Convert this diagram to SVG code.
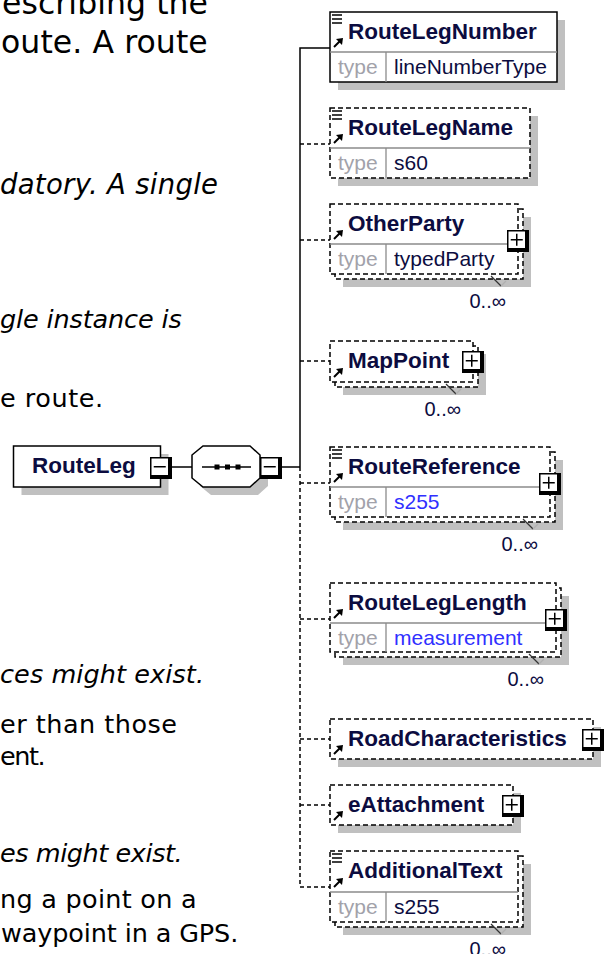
<svg xmlns="http://www.w3.org/2000/svg" width="605" height="954" viewBox="0 0 605 954">
<defs>
<style>
.prose{font-family:"DejaVu Sans",Verdana,sans-serif;font-size:25.5px;fill:#000}
.big{font-size:31.5px}
.mid{font-size:27.5px}
.it{font-style:italic}
.name{font-family:"Liberation Sans",Arial,sans-serif;font-weight:bold;font-size:22.5px;fill:#0c0c40}
.tl{font-family:"Liberation Sans",Arial,sans-serif;font-size:21px;fill:#a2a2aa}
.tv{font-family:"Liberation Sans",Arial,sans-serif;font-size:21px;fill:#0c0c40}
.blue{fill:#3030ff}
.occ{font-family:"Liberation Sans",Arial,sans-serif;font-size:20px;fill:#0c0c40;text-anchor:end}
.box{fill:#fff;stroke:#000;stroke-width:1.5}
.dash{stroke-dasharray:5 3}
.sh{fill:#c0c0c0}
.dv{stroke:#8c8c8c;stroke-width:1.3;fill:none}
.tick{fill:none;stroke:#333;stroke-width:1.2}
.tick2{fill:none;stroke:#b0b0b0;stroke-width:1.2}
.con{fill:none;stroke:#000;stroke-width:1.5}
.cd{stroke-dasharray:4 3}
</style>
<g id="arrowIcon"><path d="M0,0 L6,-6" stroke="#000" stroke-width="2" fill="none"/><path d="M9,-9 L2,-8 L8,-2 Z" fill="#000"/></g>
<g id="linesIcon"><path d="M0,0 H10 M0,4 H10 M0,8 H10" stroke="#000" stroke-width="1.4" fill="none"/></g>
<g id="plusBox"><rect x="0" y="0" width="22" height="22" fill="#000"/><rect x="0.75" y="0.75" width="18" height="18" fill="#fff" stroke="#000" stroke-width="1.5"/><path d="M3.75,9.75 H15.75 M9.75,3.75 V15.75" stroke="#000" stroke-width="1.5"/></g>
<g id="minusBox"><rect x="0" y="0" width="22" height="22" fill="#000"/><rect x="0.75" y="0.75" width="18" height="18" fill="#fff" stroke="#000" stroke-width="1.5"/><path d="M3.75,9.75 H15.75" stroke="#000" stroke-width="1.5"/></g>
</defs>
<rect width="605" height="954" fill="#fff"/>

<g id="prose">
<text class="prose big" x="2" y="14" textLength="206" lengthAdjust="spacing">escribing the</text>
<text class="prose big" x="1" y="53" textLength="206.7" lengthAdjust="spacing">oute. A route</text>
<text class="prose mid it" x="0" y="194" textLength="218" lengthAdjust="spacing">datory. A single</text>
<text class="prose it" x="0" y="328" textLength="181.7" lengthAdjust="spacing">gle instance is</text>
<text class="prose" x="0" y="407" textLength="103" lengthAdjust="spacing">e route.</text>
<text class="prose it" x="0" y="683" textLength="204" lengthAdjust="spacing">ces might exist.</text>
<text class="prose" x="0" y="733" textLength="177" lengthAdjust="spacing">er than those</text>
<text class="prose" x="0" y="765" textLength="45.7" lengthAdjust="spacing">ent.</text>
<text class="prose it" x="0" y="862" textLength="182.7" lengthAdjust="spacing">es might exist.</text>
<text class="prose" x="0" y="908" textLength="196.7" lengthAdjust="spacing">ng a point on a</text>
<text class="prose" x="1" y="942" textLength="237.3" lengthAdjust="spacing">waypoint in a GPS.</text>
</g>

<g id="connectors">
<path class="con" d="M172,467 H192 M282,467 H300 M300,467 V48 H330"/>
<path class="con cd" d="M300,467 V887 M300,144 H330 M300,240 H330 M300,361 H330 M300,483 H330 M300,619 H330 M300,739 H330 M300,805 H330 M300,887 H330"/>
</g>

<g id="RouteLeg">
<rect class="sh" x="21.5" y="454" width="147" height="41"/>
<rect class="box" x="13.5" y="446" width="147" height="41"/>
<text class="name" x="32" y="473">RouteLeg</text>
<use href="#minusBox" x="150" y="457"/>
</g>

<g id="sequence">
<polygon class="sh" points="200,463 211,454 258,454 268,463 268,486 258,495 211,495 200,486"/>
<polygon class="box" points="192,455 203,446 250,446 260,455 260,478 250,487 203,487 192,478"/>
<path d="M202,467 H251" stroke="#000" stroke-width="1.5"/>
<rect x="214.5" y="464.5" width="5" height="5" fill="#000"/>
<rect x="225" y="464.5" width="5" height="5" fill="#000"/>
<rect x="235.5" y="464.5" width="5" height="5" fill="#000"/>
<use href="#minusBox" x="260" y="457"/>
</g>

<g id="RouteLegNumber">
<rect class="sh" x="338" y="20" width="227" height="70"/>
<rect class="box" x="330" y="12" width="227" height="70"/>
<path class="dv" d="M330,52 H557 M386,52 V82"/>
<use href="#linesIcon" x="332" y="15"/>
<use href="#arrowIcon" x="334" y="47"/>
<text class="name" x="348" y="39">RouteLegNumber</text>
<text class="tl" x="338" y="74">type</text>
<text class="tv" x="394" y="74">lineNumberType</text>
</g>

<g id="RouteLegName">
<rect class="sh" x="338" y="116" width="200" height="70"/>
<rect class="box dash" x="330" y="108" width="200" height="70"/>
<path class="dv" d="M330,148 H530 M386,148 V178"/>
<use href="#linesIcon" x="332" y="111"/>
<use href="#arrowIcon" x="334" y="143"/>
<text class="name" x="348" y="135">RouteLegName</text>
<text class="tl" x="338" y="170">type</text>
<text class="tv" x="394" y="170">s60</text>
</g>

<g id="OtherParty">
<rect class="sh" x="343" y="217" width="188" height="70"/>
<rect class="box dash" x="335" y="209" width="188" height="70"/>
<rect class="box dash" x="330" y="204" width="188" height="70"/>
<path class="dv" d="M330,244 H518 M386,244 V274"/>
<use href="#arrowIcon" x="334" y="239"/>
<text class="name" x="348" y="231">OtherParty</text>
<text class="tl" x="338" y="266">type</text>
<text class="tv" x="394" y="266">typedParty</text>
<use href="#plusBox" x="507" y="230"/>
<path class="tick" d="M491,276 L501,286"/><path class="tick2" d="M501,286 L506,281"/>
<text class="occ" x="506" y="308">0..∞</text>
</g>

<g id="MapPoint">
<rect class="sh" x="343" y="354" width="143" height="41"/>
<rect class="box dash" x="335" y="346" width="143" height="41"/>
<rect class="box dash" x="330" y="341" width="143" height="41"/>
<use href="#arrowIcon" x="334" y="377"/>
<text class="name" x="348" y="368">MapPoint</text>
<use href="#plusBox" x="462" y="351"/>
<path class="tick" d="M446,384 L456,394"/><path class="tick2" d="M456,394 L461,389"/>
<text class="occ" x="461" y="416">0..∞</text>
</g>

<g id="RouteReference">
<rect class="sh" x="343" y="460" width="220" height="70"/>
<rect class="box dash" x="335" y="452" width="220" height="70"/>
<rect class="box dash" x="330" y="447" width="220" height="70"/>
<path class="dv" d="M330,487 H550 M386,487 V517"/>
<use href="#linesIcon" x="332" y="450"/>
<use href="#arrowIcon" x="334" y="482"/>
<text class="name" x="348" y="474">RouteReference</text>
<text class="tl" x="338" y="509">type</text>
<text class="tv blue" x="394" y="509">s255</text>
<use href="#plusBox" x="539" y="473"/>
<path class="tick" d="M523,519 L533,529"/><path class="tick2" d="M533,529 L538,524"/>
<text class="occ" x="538" y="551">0..∞</text>
</g>

<g id="RouteLegLength">
<rect class="sh" x="343" y="596" width="226" height="69"/>
<rect class="box dash" x="335" y="588" width="226" height="69"/>
<rect class="box dash" x="330" y="583" width="226" height="69"/>
<path class="dv" d="M330,623 H556 M386,623 V652"/>
<use href="#arrowIcon" x="334" y="618"/>
<text class="name" x="348" y="610">RouteLegLength</text>
<text class="tl" x="338" y="645">type</text>
<text class="tv blue" x="394" y="645">measurement</text>
<use href="#plusBox" x="545" y="609"/>
<path class="tick" d="M529,654 L539,664"/><path class="tick2" d="M539,664 L544,659"/>
<text class="occ" x="544" y="686">0..∞</text>
</g>

<g id="RoadCharacteristics">
<rect class="sh" x="338" y="727" width="263" height="40"/>
<rect class="box dash" x="330" y="719" width="263" height="40"/>
<use href="#arrowIcon" x="334" y="754"/>
<text class="name" x="348" y="746">RoadCharacteristics</text>
<use href="#plusBox" x="582" y="729"/>
</g>

<g id="eAttachment">
<rect class="sh" x="338" y="793" width="183" height="40"/>
<rect class="box dash" x="330" y="785" width="183" height="40"/>
<use href="#arrowIcon" x="334" y="820"/>
<text class="name" x="348" y="812">eAttachment</text>
<use href="#plusBox" x="502" y="795"/>
</g>

<g id="AdditionalText">
<rect class="sh" x="343" y="864" width="188" height="71"/>
<rect class="box dash" x="335" y="856" width="188" height="71"/>
<rect class="box dash" x="330" y="851" width="188" height="71"/>
<path class="dv" d="M330,892 H518 M386,892 V922"/>
<use href="#linesIcon" x="332" y="854"/>
<use href="#arrowIcon" x="334" y="887"/>
<text class="name" x="348" y="878">AdditionalText</text>
<text class="tl" x="338" y="914">type</text>
<text class="tv" x="394" y="914">s255</text>
<path class="tick" d="M491,924 L501,934"/><path class="tick2" d="M501,934 L506,929"/>
<text class="occ" x="506" y="956">0..∞</text>
</g>
</svg>
